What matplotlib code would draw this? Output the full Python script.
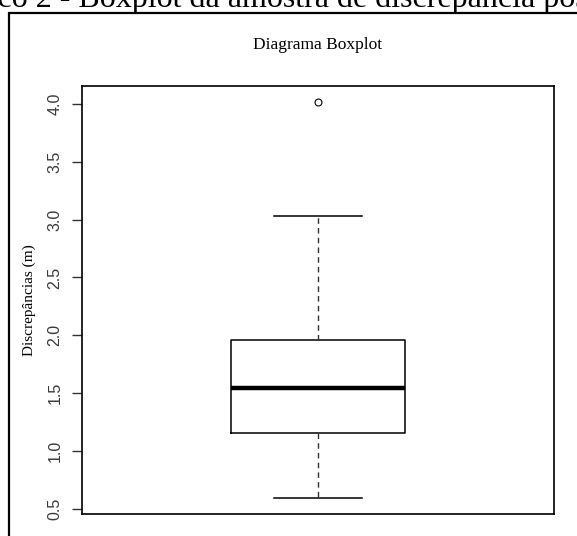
import matplotlib
matplotlib.use("Agg")
import matplotlib.pyplot as plt
from matplotlib.patches import Rectangle

# boxplot summary values (m)
whisker_low = 0.59
q1 = 1.15
median = 1.54
q3 = 1.96
whisker_high = 3.03
outliers = [4.02]

y_ticks = [0.5, 1.0, 1.5, 2.0, 2.5, 3.0, 3.5, 4.0]
y_tick_labels = ["0.5", "1.0", "1.5", "2.0", "2.5", "3.0", "3.5", "4.0"]

title = "Diagrama Boxplot"
y_label = "Discrepâncias (m)"
caption = "Gráfico 2 - Boxplot da amostra de discrepância posicional"

fig = plt.figure(figsize=(5.77, 5.36), dpi=100)
serif = ["Liberation Serif", "DejaVu Serif"]

# caption line above the frame, cut off by the top edge as in the source
fig.text(-0.121, 1 - 7 / 536, caption, family=serif, fontsize=23,
         ha="left", va="baseline")

# outer frame around the figure region
fig.add_artist(Rectangle((9 / 577, -0.1), 1.2, 1 - 13 / 536 + 0.1,
                         transform=fig.transFigure, fill=False,
                         edgecolor="black", linewidth=1.6))

ax = fig.add_axes([82 / 577, 22 / 536, 472 / 577, 428 / 536])

stats = [{
    "whislo": whisker_low, "q1": q1, "med": median, "q3": q3,
    "whishi": whisker_high, "fliers": outliers,
}]
ax.bxp(stats, positions=[1], widths=0.4, showcaps=True,
       boxprops=dict(color="black", linewidth=1.1),
       medianprops=dict(color="black", linewidth=3.2),
       whiskerprops=dict(color="#333333", linewidth=1.0, linestyle=(0, (4, 3))),
       capprops=dict(color="black", linewidth=1.1),
       flierprops=dict(marker="o", markersize=5, markerfacecolor="none",
                       markeredgecolor="black", markeredgewidth=0.8))

lo = min(whisker_low, min(outliers))
hi = max(whisker_high, max(outliers))
pad = (hi - lo) * 0.04
ax.set_ylim(lo - pad, hi + pad)
ax.set_xlim(0.46, 1.54)

ax.set_xticks([])
ax.set_yticks(y_ticks)
ax.set_yticklabels(y_tick_labels, rotation=90, va="center",
                   family=["Liberation Sans", "DejaVu Sans"], fontsize=11.5, color="#3a3a3a")
ax.tick_params(axis="y", length=7, width=1.0, pad=7, color="#333333")
for s in ax.spines.values():
    s.set_linewidth(1.2)

ax.set_ylabel(y_label, family=serif, fontsize=11, labelpad=8)
ax.set_title(title, family=serif, fontsize=12.5, pad=27)

fig.savefig("out.png", dpi=100)
